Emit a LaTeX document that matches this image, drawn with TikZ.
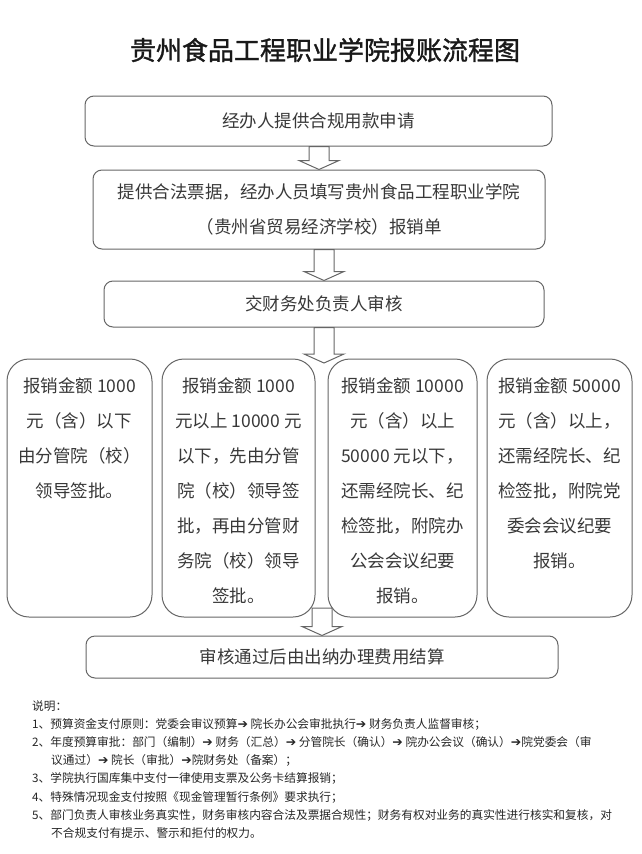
\documentclass[tikz,border=0pt]{standalone}
\usepackage{fontspec}
\setmainfont{Noto Sans CJK SC}
\newfontfamily\titlefont[FakeBold=1.3]{Noto Sans CJK SC}
\newfontfamily\arrowfont{DejaVu Sans}
\usetikzlibrary{positioning, calc}

\newcommand{\nextstep}{{\arrowfont\fontsize{12.5pt}{12.5pt}\selectfont ➔}}
\newcommand{\amtlines}[2]{\parbox[c][258pt][t]{#1}{\centering\vspace*{19pt}#2}}

\begin{document}
\begin{tikzpicture}[
  x=1pt, y=-1pt,
  every node/.style={text=black!78},
  box/.style={draw=black!60, line width=1pt, rounded corners=9pt, align=center, inner sep=0pt,
    font=\fontsize{17.5pt}{35pt}\selectfont},
  amount/.style={box, rounded corners=22pt},
  title/.style={font=\titlefont\fontsize{26pt}{30pt}\selectfont, text=black!90},
  notes/.style={align=left, inner sep=0pt, font=\fontsize{11.7pt}{18.2pt}\selectfont, text=black!85},
  down/.style={draw=black!60, line width=1pt, fill=white, line join=miter,
    to path={($(\tikztotarget|-\tikztostart)+(-10,0)$) -- ($(\tikztotarget)+(-10,-9)$)
      -- ($(\tikztotarget)+(-20,-9)$) -- (\tikztotarget) -- ($(\tikztotarget)+(20,-9)$)
      -- ($(\tikztotarget)+(10,-9)$) -- ($(\tikztotarget|-\tikztostart)+(10,0)$) -- cycle}}
]
\useasboundingbox (0,0) rectangle (642,854);

% Title
\node[title] (title) at (325,50) {贵州食品工程职业学院报账流程图};

% Main steps
\node[box, minimum width=467pt, minimum height=50pt] (apply) at (318.5,121) {经办人提供合规用款申请};
\node[box, minimum width=452pt, minimum height=79pt] (bill) at (319,209.5)
  {提供合法票据，经办人员填写贵州食品工程职业学院\\（贵州省贸易经济学校）报销单};
\node[box, minimum width=440pt, minimum height=46pt] (check) at (324,304) {交财务处负责人审核};

% Four amount levels
\node[amount] (amtA) at (79.5,488)
  {\amtlines{145pt}{报销金额 1000\\元（含）以下\\由分管院（校）\\领导签批。}};
\node[amount] (amtB) at (238.5,488)
  {\amtlines{153pt}{报销金额 1000\\元以上 10000 元\\以下，先由分管\\院（校）领导签\\批，再由分管财\\务院（校）领导\\签批。}};
\node[amount] (amtC) at (402.5,488)
  {\amtlines{149pt}{报销金额 10000\\元（含）以上\\50000 元以下，\\还需经院长、纪\\检签批，附院办\\公会会议纪要\\报销。}};
\node[amount] (amtD) at (559.5,488)
  {\amtlines{145pt}{报销金额 50000\\元（含）以上，\\还需经院长、纪\\检签批，附院党\\委会会议纪要\\报销。}};

% Last step
\node[box, minimum width=472pt, minimum height=42pt] (settle) at (322,657) {审核通过后由出纳办理费用结算};

\coordinate (fork) at (324,363);
\coordinate (join) at (322,608);

% Block arrows
\draw[down] (apply.south) to (bill.north);
\draw[down] (bill.south)  to (check.north);
\draw[down] (check.south) to (fork);
\draw[down] (join)        to (settle.north);

% Notes
\node[notes, anchor=north west] (notes) at (32,700) {说明：\\
1、预算资金支付原则：党委会审议预算\nextstep{} 院长办公会审批执行\nextstep{} 财务负责人监督审核；\\
2、年度预算审批：部门（编制）\nextstep{} 财务（汇总）\nextstep{} 分管院长（确认）\nextstep{} 院办公会议（确认）\nextstep{}院党委会（审\\
\hspace*{19pt}议通过）\nextstep{} 院长（审批）\nextstep{}院财务处（备案）；\\
3、学院执行国库集中支付一律使用支票及公务卡结算报销；\\
4、特殊情况现金支付按照《现金管理暂行条例》要求执行；\\
5、部门负责人审核业务真实性，财务审核内容合法及票据合规性；财务有权对业务的真实性进行核实和复核，对\\
\hspace*{19pt}不合规支付有提示、警示和拒付的权力。};

\end{tikzpicture}
\end{document}
